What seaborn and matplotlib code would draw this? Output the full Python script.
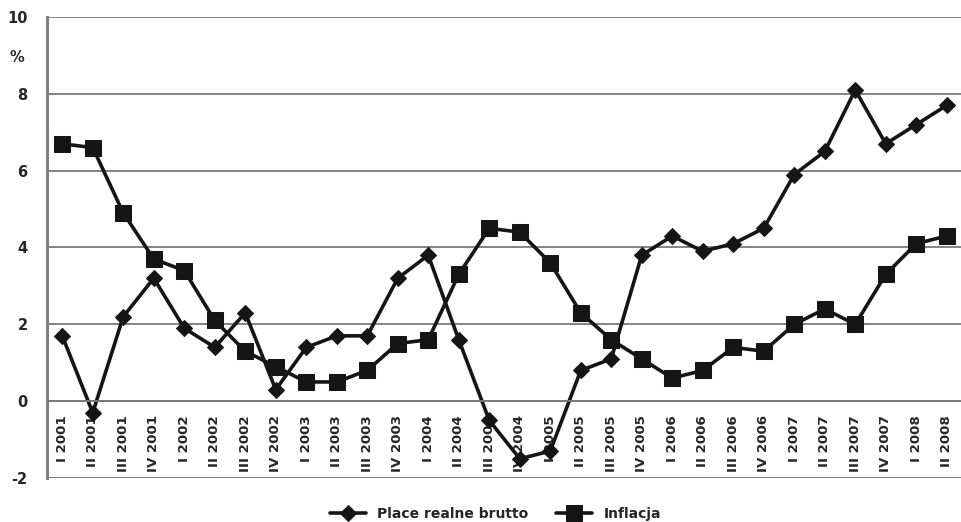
import matplotlib
matplotlib.use("Agg")
import matplotlib.pyplot as plt
import seaborn as sns
import pandas as pd
import numpy as np

quarters = ["I 2001", "II 2001", "III 2001", "IV 2001",
            "I 2002", "II 2002", "III 2002", "IV 2002",
            "I 2003", "II 2003", "III 2003", "IV 2003",
            "I 2004", "II 2004", "III 2004", "IV 2004",
            "I 2005", "II 2005", "III 2005", "IV 2005",
            "I 2006", "II 2006", "III 2006", "IV 2006",
            "I 2007", "II 2007", "III 2007", "IV 2007",
            "I 2008", "II 2008"]
wages = [1.7, -0.3, 2.2, 3.2, 1.9, 1.4, 2.3, 0.3, 1.4, 1.7, 1.7, 3.2,
         3.8, 1.6, -0.5, -1.5, -1.3, 0.8, 1.1, 3.8, 4.3, 3.9, 4.1, 4.5,
         5.9, 6.5, 8.1, 6.7, 7.2, 7.7]
inflation = [6.7, 6.6, 4.9, 3.7, 3.4, 2.1, 1.3, 0.9, 0.5, 0.5, 0.8, 1.5,
             1.6, 3.3, 4.5, 4.4, 3.6, 2.3, 1.6, 1.1, 0.6, 0.8, 1.4, 1.3,
             2.0, 2.4, 2.0, 3.3, 4.1, 4.3]
y_ticks = [-2, 0, 2, 4, 6, 8, 10]

sns.set_style("white")
plt.rcParams["font.family"] = ["DejaVu Sans"]

fig = plt.figure(figsize=(9.62, 5.22), dpi=100)
ax = fig.add_axes([47 / 962, 1 - 478 / 522, 915 / 962, (478 - 17) / 522])

df = pd.DataFrame({"x": np.arange(len(quarters)), "wages": wages, "inflation": inflation})

sns.lineplot(data=df, x="x", y="wages", ax=ax, color="#151515", linewidth=2.6,
             marker="D", markersize=8, markeredgecolor="#151515",
             label="Place realne brutto")
sns.lineplot(data=df, x="x", y="inflation", ax=ax, color="#151515", linewidth=2.6,
             marker="s", markersize=11, markeredgecolor="#151515",
             label="Inflacja")

ax.set_xlim(-0.5, len(quarters) - 0.5)
ax.set_ylim(-2, 10)
ax.set_yticks(y_ticks)
ax.set_yticklabels([str(v) for v in y_ticks], fontsize=10.5, fontweight="bold")
ax.tick_params(axis="y", length=6, width=1.2, color="#808080", pad=8)
ax.yaxis.grid(True, color="#7a7a7a", linewidth=1.3)
ax.set_axisbelow(True)

# category axis sits on the zero line; labels hang below it
ax.spines["bottom"].set_position(("data", 0))
ax.spines["bottom"].set_color("#7a7a7a")
ax.spines["bottom"].set_linewidth(1.3)
ax.spines["left"].set_color("#808080")
ax.spines["left"].set_linewidth(2.2)
ax.spines["top"].set_visible(False)
ax.spines["right"].set_visible(False)
ax.axhline(-2, color="#7a7a7a", linewidth=2.0, zorder=1)

ax.set_xticks(np.arange(len(quarters)))
ax.set_xticklabels(quarters, rotation=90, fontsize=9.6, fontweight="bold")
ax.set_xticks(np.arange(len(quarters) + 1) - 0.5, minor=True)
ax.tick_params(axis="x", which="major", length=0, pad=10)
ax.tick_params(axis="x", which="minor", length=5, width=1.2, color="#808080", direction="out")
ax.set_xlabel("")
ax.set_ylabel("")

fig.text(10 / 962, 1 - 57 / 522, "%", fontsize=10.5, fontweight="bold", va="center")

ax.get_legend().remove()
handles, labels = ax.get_legend_handles_labels()
fig.legend(handles, labels, loc="center", bbox_to_anchor=(0.515, 1 - 514 / 522),
           ncol=2, frameon=False, handlelength=2.6, columnspacing=2.0,
           prop={"weight": "bold", "size": 10})

fig.savefig("out.png", dpi=100)
